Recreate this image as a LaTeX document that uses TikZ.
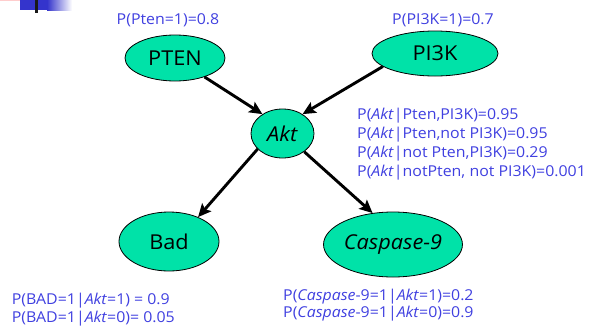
\documentclass[tikz,border=0pt]{standalone}
\usepackage{fontspec}
\setmainfont{Open Sans}
\newfontfamily\lblfont[FakeStretch=1.06]{Open Sans}
\newfontfamily\nodefont[FakeStretch=1.06]{Open Sans}
\usetikzlibrary{arrows.meta,shapes.geometric}
\definecolor{lblue}{RGB}{64,64,224}
\definecolor{nodefill}{RGB}{0,226,168}
\definecolor{decoblue}{RGB}{52,52,204}
\definecolor{decopink}{RGB}{255,205,205}
\tikzset{
  bnode/.style={ellipse, draw=black, line width=0.8pt, fill=nodefill, inner sep=0pt,
    font=\nodefont\fontsize{20.5}{23}\selectfont},
  lbl/.style={text=lblue, font=\lblfont\fontsize{15}{17}\selectfont, inner sep=0pt, anchor=base west},
  lblc/.style={lbl, anchor=base},
  arr/.style={line width=2.9pt, -{Stealth[length=13pt,width=12pt,inset=2.5pt]}},
}
\begin{document}
\begin{tikzpicture}[x=1pt,y=-1pt]
\useasboundingbox (0,0) rectangle (592,327);
% slide decoration
\fill[decopink] (0,0) rectangle (31,1.2);
\fill[decoblue] (20,0) rectangle (47,10);
\shade[left color=decoblue, right color=white] (47,0) rectangle (72,10);
\fill[black!90] (35,0) rectangle (37.7,13);
% nodes
\node[bnode, minimum width=100pt, minimum height=46pt] (pten) at (175,58) {PTEN};
\node[bnode, minimum width=126pt, minimum height=45pt] (pi3k) at (435,53.5) {PI3K};
\node[bnode, minimum width=63pt, minimum height=49pt] (akt) at (282.5,133.5) {\textit{Akt}};
\node[bnode, minimum width=100pt, minimum height=59pt] (bad) at (169,241.5) {Bad};
\node[bnode, minimum width=106pt, minimum height=65pt] (casp) at (393,244.5) {\textit{Caspase-9}};
% connectors
\draw[arr] (pten) -- (akt.136);
\draw[arr] (pi3k.194) -- (akt.44);
\draw[arr] (akt.212) -- (bad.40);
\draw[arr] (akt.320) -- (casp.123);
% labels
\node[lblc] (lpten) at (168,24) {P(Pten=1)=0.8};
\node[lblc] (lpi3k) at (443,24) {P(PI3K=1)=0.7};
\node[lbl] (la1) at (357,119.5) {P(\textit{Akt}|Pten,PI3K)=0.95};
\node[lbl] (la2) at (357,138.5) {P(\textit{Akt}|Pten,not PI3K)=0.95};
\node[lbl] (la3) at (357,157.5) {P(\textit{Akt}|not Pten,PI3K)=0.29};
\node[lbl] (la4) at (357,176.5) {P(\textit{Akt}|notPten, not PI3K)=0.001};
\node[lbl] (lb1) at (11.7,304) {P(BAD=1|\textit{Akt}=1) = 0.9};
\node[lbl] (lb2) at (11.7,322) {P(BAD=1|\textit{Akt}=0)= 0.05};
\node[lbl] (lc1) at (283,300) {P(\textit{Caspase}-9=1|\textit{Akt}=1)=0.2};
\node[lbl] (lc2) at (283,317) {P(\textit{Caspase}-9=1|\textit{Akt}=0)=0.9};
\end{tikzpicture}
\end{document}
